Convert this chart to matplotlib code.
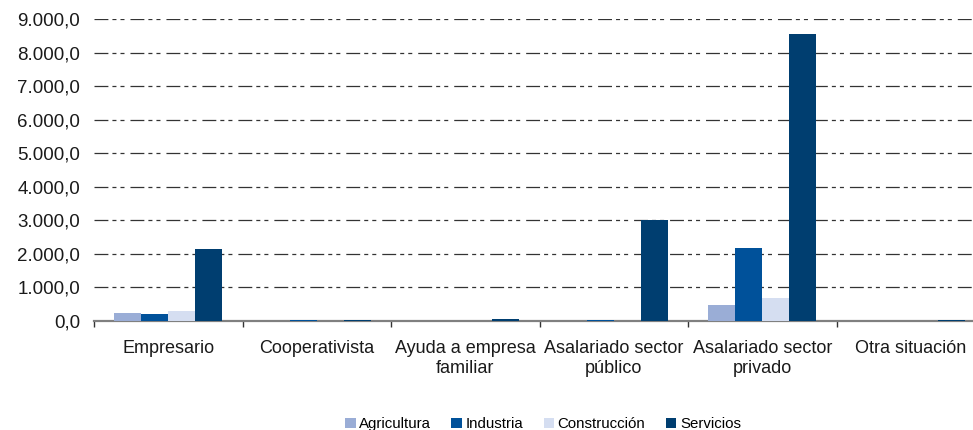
import matplotlib
matplotlib.use("Agg")
import matplotlib.pyplot as plt
import numpy as np
from matplotlib.ticker import FuncFormatter, FixedLocator

plt.rcParams['font.family'] = ['Liberation Sans', 'DejaVu Sans']
plt.rcParams['lines.scale_dashes'] = False

categories = ["Empresario", "Cooperativista", "Ayuda a empresa\nfamiliar",
              "Asalariado sector\npúblico", "Asalariado sector\nprivado", "Otra situación"]
series_names = ["Agricultura", "Industria", "Construcción", "Servicios"]
agricultura = [240, 5, 5, 5, 480, 2]
industria = [215, 15, 10, 15, 2190, 3]
construccion = [310, 5, 5, 5, 700, 2]
servicios = [2160, 15, 45, 3000, 8550, 20]
colors = ["#9AADD6", "#00519A", "#D5DEF1", "#003E70"]

data = [agricultura, industria, construccion, servicios]

fig = plt.figure(figsize=(9.73, 4.30), dpi=100)
ax = fig.add_axes([94/973, 1 - 321/430, 891/973, (321 - 19)/430])

x = np.arange(len(categories))
bw = 0.182
for i, (vals, c, name) in enumerate(zip(data, colors, series_names)):
    ax.bar(x + (i - 1.5) * bw, vals, width=bw, color=c, label=name, zorder=3)

ax.set_xlim(-0.5, len(categories) - 0.5)
ax.set_ylim(0, 9000)
ax.set_yticks(np.arange(0, 9001, 1000))
ax.yaxis.set_major_formatter(FuncFormatter(
    lambda v, p: f"{v:,.1f}".replace(",", "X").replace(".", ",").replace("X", ".")))
ax.grid(axis='y', color='#333333', linewidth=0.9,
        linestyle=(0, (10, 2.9, 2.9, 2.9, 2.9, 4.3)), zorder=0)
ax.set_axisbelow(True)

ax.xaxis.set_major_locator(FixedLocator(np.arange(-0.5, len(categories), 1.0)))
ax.xaxis.set_minor_locator(FixedLocator(x))
ax.set_xticklabels([""] * 7)
ax.set_xticklabels(categories, minor=True, fontsize=13, color='#1a1a1a', linespacing=1.2)
ax.tick_params(axis='x', which='major', length=4, width=1, color='#333333', direction='out')
ax.tick_params(axis='x', which='minor', length=0, pad=14)
ax.tick_params(axis='y', length=0, labelsize=13.5, labelcolor='#1a1a1a', pad=10)

for s in ['top', 'right', 'left']:
    ax.spines[s].set_visible(False)
ax.spines['bottom'].set_color('#808080')
ax.spines['bottom'].set_linewidth(1.6)

leg = fig.legend(loc='center', bbox_to_anchor=(543/973, 1 - 424/430), ncol=4, frameon=False,
                 fontsize=10.8, handlelength=0.7, handleheight=0.7, handletextpad=0.25,
                 columnspacing=1.35)

fig.savefig("out.png", dpi=100)
